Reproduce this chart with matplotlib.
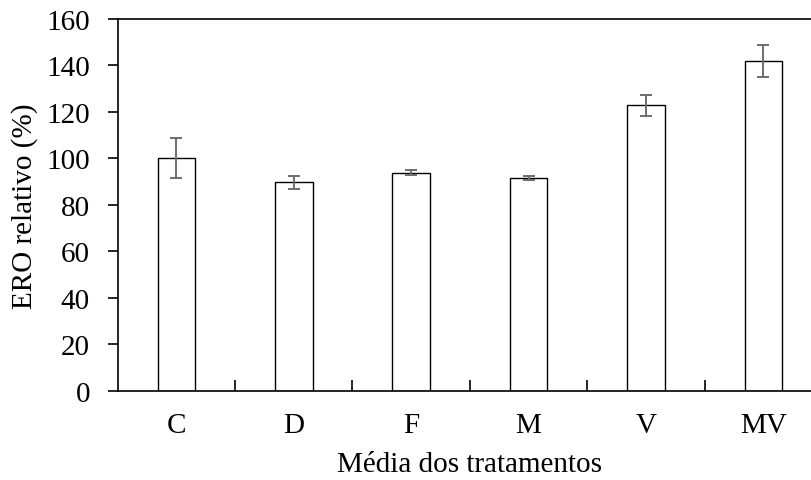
"""
Relative ERO per treatment, bar chart with error bars
"""
import matplotlib.pyplot as plt
import numpy as np

categories = ["C", "D", "F", "M", "V", "MV"]
ero_mean = [100.0, 89.7, 93.9, 91.6, 122.8, 142.1]
ero_err = [8.6, 2.7, 1.0, 0.8, 4.7, 6.9]
y_ticks = [0, 20, 40, 60, 80, 100, 120, 140, 160]


def main():
    plt.rcParams["font.family"] = ["Liberation Serif", "DejaVu Serif"]
    plt.rcParams["font.size"] = 21

    fig = plt.figure(figsize=(8.11, 4.81), dpi=100)
    # right edge runs past the figure, the reference is cropped there
    ax = fig.add_axes([0.1451, 0.1857, 1.0136 - 0.1451, 0.9584 - 0.1857])

    x = np.arange(len(categories))
    ax.bar(x, ero_mean, width=0.32, color="white", edgecolor="black", linewidth=1.0)
    ax.errorbar(x, ero_mean, yerr=ero_err, fmt="none", ecolor="#6e6e6e",
                elinewidth=1.4, capsize=4.2, capthick=1.4)

    ax.set_xlim(-0.5, len(categories) - 0.5)
    ax.set_ylim(0, 160)
    ax.set_yticks(y_ticks)

    ax.set_xticks(x)
    ax.set_xticklabels(categories)
    ax.set_xticks(x[:-1] + 0.5, minor=True)
    ax.tick_params(axis="x", which="major", length=0, pad=15)
    ax.tick_params(axis="x", which="minor", direction="in", length=8, width=1.2)
    ax.tick_params(axis="y", direction="out", length=7, width=1.2, pad=13)

    for side in ["left", "bottom", "top"]:
        ax.spines[side].set_linewidth(1.2)
    ax.spines["right"].set_visible(False)

    ax.set_ylabel("ERO relativo (%)")
    ax.yaxis.set_label_coords(-0.113, 0.5)
    ax.set_xlabel("Média dos tratamentos")
    ax.xaxis.set_label_coords(0.5, -0.163)

    fig.savefig("out.png", dpi=100)


if __name__ == "__main__":
    main()
